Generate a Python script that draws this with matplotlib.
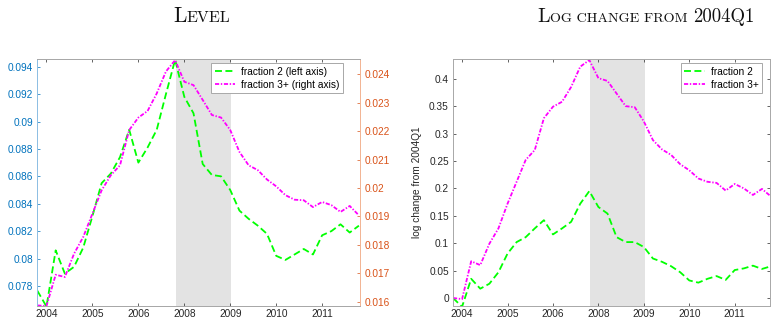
import numpy as np
import matplotlib
matplotlib.use("Agg")
from matplotlib import pyplot as plt
from matplotlib.ticker import FuncFormatter

# quarterly data 2004Q1 - 2012Q4
quarters = 2004 + np.arange(36) / 4.0

# level, fraction 2 (left axis)
frac2_level = [0.07766, 0.0765, 0.0806, 0.0789, 0.0794, 0.0808, 0.0831, 0.0855, 0.0862, 0.0874,
               0.0894, 0.0870, 0.0881, 0.0894, 0.0920, 0.0945, 0.0918, 0.0906, 0.0869, 0.0861,
               0.0860, 0.0850, 0.0835, 0.0829, 0.0824, 0.0818, 0.0802, 0.0799, 0.0803, 0.0807,
               0.0803, 0.0817, 0.0820, 0.0825, 0.0819, 0.0824]
# level, fraction 3+ (right axis)
frac3_level = [0.01587, 0.01585, 0.01695, 0.01687, 0.01769, 0.01828, 0.01910, 0.01992, 0.02045, 0.02080,
               0.02204, 0.02248, 0.02271, 0.02333, 0.02410, 0.02450, 0.02374, 0.02362, 0.02310, 0.02257,
               0.02248, 0.02204, 0.02127, 0.02080, 0.02063, 0.02030, 0.02006, 0.01975, 0.01959, 0.01957,
               0.01933, 0.01951, 0.01940, 0.01916, 0.01937, 0.01904]
# log change from 2004Q1
frac2_log = [0.0, -0.016, 0.035, 0.017, 0.026, 0.047, 0.081, 0.102, 0.111, 0.127,
             0.142, 0.116, 0.127, 0.139, 0.172, 0.195, 0.166, 0.154, 0.111, 0.102,
             0.102, 0.093, 0.072, 0.066, 0.058, 0.047, 0.032, 0.028, 0.035, 0.040,
             0.033, 0.051, 0.054, 0.059, 0.053, 0.058]
frac3_log = [0.0, -0.002, 0.067, 0.060, 0.099, 0.127, 0.172, 0.212, 0.252, 0.270,
             0.328, 0.349, 0.358, 0.385, 0.422, 0.434, 0.401, 0.396, 0.373, 0.350,
             0.348, 0.322, 0.288, 0.271, 0.261, 0.244, 0.233, 0.218, 0.212, 0.210,
             0.196, 0.208, 0.200, 0.188, 0.199, 0.185]

recession = (2007.77, 2009.28)
xtick_pos = [2004.25, 2005.5, 2006.75, 2008.0, 2009.25, 2010.5, 2011.75]
xtick_lab = ['2004', '2005', '2006', '2008', '2009', '2010', '2011']
yticks_left = [0.078, 0.080, 0.082, 0.084, 0.086, 0.088, 0.090, 0.092, 0.094]
yticks_right = [0.016, 0.017, 0.018, 0.019, 0.020, 0.021, 0.022, 0.023, 0.024]
yticks_log = [0, 0.05, 0.1, 0.15, 0.2, 0.25, 0.3, 0.35, 0.4]

plt.rcParams['font.family'] = ['Liberation Sans', 'DejaVu Sans']
plt.rcParams['font.size'] = 7.3
plt.rcParams['lines.scale_dashes'] = False

blue = '#0072BD'
orange = '#D95319'
gray = '#262626'
green = '#00ff00'
magenta = '#ff00ff'
lw = 1.3
dash2 = (5, 2.5)
dash3 = (3, 1.2, 1, 1.2)

fmt = FuncFormatter(lambda v, p: '%g' % v)

fig = plt.figure(figsize=(7.72, 3.2), dpi=100)
W, H = 772.0, 320.0
ax1 = fig.add_axes([37.3 / W, 14 / H, 322.7 / W, 247 / H])
ax3 = fig.add_axes([453 / W, 14 / H, 317 / W, 247 / H])

def style(ax):
    ax.tick_params(direction='in', length=2.5, width=0.5, top=True, labelsize=7.3, colors=gray)
    ax.tick_params(axis='x', pad=2.5)
    for s in ax.spines.values():
        s.set_color('#a8a8a8')
        s.set_linewidth(0.7)

# ---- left panel: levels
ax1.axvspan(recession[0], recession[1], color='#e3e3e3', lw=0, zorder=0)
l1, = ax1.plot(quarters, frac2_level, color=green, lw=lw, dashes=dash2, label='fraction 2 (left axis)')
ax2 = ax1.twinx()
l2, = ax2.plot(quarters, frac3_level, color=magenta, lw=lw, dashes=dash3, label='fraction 3+ (right axis)')
ax1.set_xlim(2004.0, 2012.78)
ax1.set_ylim(0.07654, 0.09456)
ax2.set_ylim(0.01585, 0.02454)
for ax in (ax1, ax2):
    style(ax)
ax1.set_xticks(xtick_pos, xtick_lab)
ax1.set_yticks(yticks_left)
ax2.set_yticks(yticks_right)
ax1.yaxis.set_major_formatter(fmt)
ax2.yaxis.set_major_formatter(fmt)
ax1.tick_params(axis='y', colors=blue, pad=3, right=False)
ax2.tick_params(axis='y', colors=orange, pad=3)
ax1.tick_params(axis='x', colors=gray)
ax2.spines['left'].set_color('#8fbfe3')
ax2.spines['right'].set_color('#f2b595')
ax1.spines['left'].set_color('#8fbfe3')
ax1.spines['right'].set_color('#f2b595')
leg = ax2.legend(handles=[l1, l2], loc='upper right', bbox_to_anchor=(0.947, 0.984),
                 borderaxespad=0, fancybox=False, edgecolor='#a8a8a8', framealpha=1,
                 handlelength=2.0, handletextpad=0.6, labelspacing=0.3, borderpad=0.35,
                 fontsize=7.3)
leg.get_frame().set_linewidth(0.7)

# ---- right panel: log change
ax3.axvspan(recession[0], recession[1], color='#e3e3e3', lw=0, zorder=0)
ax3.plot(quarters, frac2_log, color=green, lw=lw, dashes=dash2, label='fraction 2')
ax3.plot(quarters, frac3_log, color=magenta, lw=lw, dashes=dash3, label='fraction 3+')
ax3.set_xlim(2004.0, 2012.72)
ax3.set_ylim(-0.0146, 0.436)
style(ax3)
ax3.tick_params(axis='y', right=True, pad=3)
ax3.set_xticks(xtick_pos, xtick_lab)
ax3.set_yticks(yticks_log)
ax3.yaxis.set_major_formatter(fmt)
ax3.set_ylabel('log change from 2004Q1', fontsize=7.3, color=gray)
ax3.yaxis.set_label_coords(-0.098, 0.5)
leg = ax3.legend(loc='upper right', bbox_to_anchor=(0.975, 0.984), borderaxespad=0,
                 fancybox=False, edgecolor='#a8a8a8', framealpha=1, handlelength=2.0,
                 handletextpad=0.6, labelspacing=0.3, borderpad=0.35, fontsize=7.3)
leg.get_frame().set_linewidth(0.7)

# ---- small caps titles
def smallcaps(xc, yb, parts):
    texts = [fig.text(0, yb, s, fontsize=sz, family='cmr10', va='baseline', color='#111111')
             for s, sz in parts]
    r = fig.canvas.get_renderer()
    widths = [t.get_window_extent(r).width for t in texts]
    x = xc * W - sum(widths) / 2
    for t, w in zip(texts, widths):
        t.set_x(x / W)
        x += w

smallcaps(202 / W, 1 - 22 / H, [('L', 15.5), ('EVEL', 11.5)])
smallcaps(646 / W, 1 - 22 / H, [('L', 14.5), ('OG CHANGE FROM ', 10.2), ('2004Q1', 13.5)])

fig.savefig('out.png', dpi=100)
